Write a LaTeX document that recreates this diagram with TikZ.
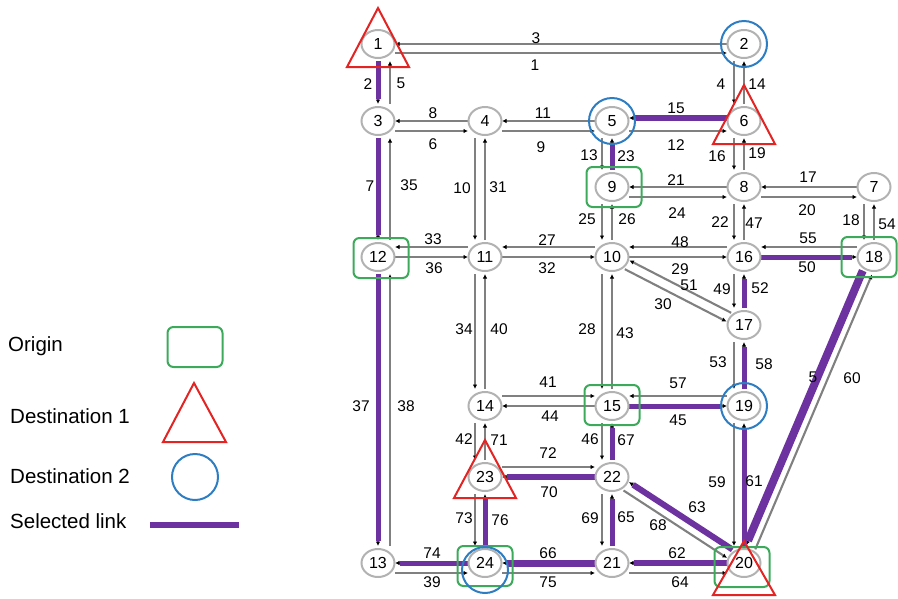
\documentclass[tikz,border=0pt]{standalone}
\usepackage{fontspec}
\setmainfont{Liberation Sans}
\usetikzlibrary{arrows.meta,shapes.geometric}
\definecolor{cgreen}{RGB}{60,170,90}
\definecolor{cred}{RGB}{228,35,35}
\definecolor{cblue}{RGB}{45,125,195}
\definecolor{cpurple}{RGB}{110,50,160}
\definecolor{linkgray}{RGB}{128,128,128}
\begin{document}
\begin{tikzpicture}[x=1pt,y=-1pt,
  lnk/.style={draw=linkgray, line width=2.1pt, shorten <=17pt, shorten >=17pt,
    -{Latex[length=4.5pt,width=4.5pt,color=black]}},
  sel/.style={draw=cpurple, shorten <=17pt, shorten >=22pt},
  nd/.style={ellipse, draw=gray!60, line width=2pt, fill=white, minimum width=33pt,
    minimum height=28pt, inner sep=0pt, font=\fontsize{16}{16}\selectfont},
  lbl/.style={inner sep=0pt, font=\fontsize{15.5}{15.5}\selectfont},
  leg/.style={inner sep=0pt, anchor=west, font=\fontsize{20.5}{20.5}\selectfont},
  orig/.style={draw=cgreen, line width=2pt, rounded corners=6pt},
  dest1/.style={draw=cred, line width=2pt},
  dest2/.style={draw=cblue, line width=2pt}]
\useasboundingbox (0,0) rectangle (898,598);
% node positions
\foreach \n/\x/\y in {1/378/44, 2/744/44, 3/378/121, 4/485/121, 5/612/121, 6/744/121,
  7/874/187, 8/744/187, 9/612/187, 10/612/257, 11/485/257, 12/378/257, 13/378/563,
  14/485/406, 15/612/406, 16/744/257, 17/744/325, 18/874/257, 19/744/406, 20/744/563,
  21/612/563, 22/612/477, 23/485/477, 24/485/563}
  \coordinate (n\n) at (\x,\y);
% gray links
\foreach \n/\a/\b/\sx/\sy in {1/1/2/0/9, 2/1/3/0/0, 3/2/1/0/0, 4/2/6/-10/0, 5/3/1/12/0,
  6/3/4/0/10, 7/3/12/0/0, 8/4/3/0/0, 9/4/5/0/10, 10/4/11/-10/0, 11/5/4/0/0, 12/5/6/0/10,
  13/5/9/-10/0, 14/6/2/0/0, 15/6/5/0/-3, 16/6/8/-10/0, 17/7/8/0/0, 18/7/18/-10/0,
  19/8/6/0/0, 20/8/7/0/10, 21/8/9/0/0, 22/8/16/-10/0, 23/9/5/0/0, 24/9/8/0/10,
  25/9/10/-10/0, 26/10/9/0/0, 27/10/11/0/-10, 28/10/15/-10/0, 29/10/16/0/0,
  30/10/17/-2.3/4.4, 31/11/4/0/0, 32/11/10/0/0, 33/11/12/0/-10, 34/11/14/-10/0,
  35/12/3/12/0, 36/12/11/0/0, 37/12/13/0/0, 38/13/12/12/0, 39/13/24/0/10, 40/14/11/0/0,
  41/14/15/0/-10, 42/14/23/-10/0, 43/15/10/0/0, 44/15/14/0/0, 45/15/19/0/0,
  46/15/22/-10/0, 47/16/8/0/0, 48/16/10/0/-10, 49/16/17/-10/0, 50/16/18/0/0,
  51/17/10/2.3/-4.4, 52/17/16/0/0, 53/17/19/-10/0, 54/18/7/0/0, 55/18/16/0/-10,
  56/18/20/-4.6/-2, 57/19/15/0/-10, 58/19/17/0/0, 59/19/20/-10/0, 60/20/18/4.6/2,
  61/20/19/0/0, 62/20/21/0/0, 63/20/22/2.7/-4.2, 64/21/20/0/10, 65/21/22/0/0,
  66/21/24/0/0, 67/22/15/0/0, 68/22/20/-2.7/4.2, 69/22/21/-10/0, 70/22/23/0/0,
  71/23/14/0/0, 72/23/22/0/-10, 73/23/24/-10/0, 74/24/13/0/0, 75/24/21/0/10, 76/24/23/0/0}
  \draw[lnk] ([shift={(\sx,\sy)}]n\a) -- ([shift={(\sx,\sy)}]n\b);
% selected links
\foreach \a/\b/\sx/\sy/\w in {1/3/0/0/5, 3/12/0/0/5, 12/13/0/0/5, 24/13/0/0/5,
  24/23/0/0/5, 21/24/0/0/7, 20/21/0/0/6, 20/22/2.7/-4.2/6, 21/22/0/0/5, 22/15/0/0/5,
  22/23/0/0/6, 15/19/0/0/5, 20/19/0/0/5, 18/20/-4.6/-2/8, 16/18/0/0/5, 17/16/0/0/5,
  19/17/0/0/5, 9/5/0/0/5, 6/5/0/-3/6.5}
  \draw[sel, line width=\w pt] ([shift={(\sx,\sy)}]n\a) -- ([shift={(\sx,\sy)}]n\b);
% node ellipses
\foreach \n in {1,...,24}
  \node[nd] (v\n) at (n\n) {\n};
% origin boxes
\foreach \n/\dx/\dy in {9/2/0, 12/3/1, 15/0/-1, 18/-5/0, 24/0/3, 20/-2/4}
  \draw[orig] ([shift={({\dx-27.5},{\dy-20})}]n\n) rectangle ([shift={({\dx+27.5},{\dy+20})}]n\n);
% destination 1 triangles
\foreach \n/\t/\bb in {1/-36/23, 6/-36/23, 23/-37/21, 20/-22/32}
  \draw[dest1] ([shift={(0,\t)}]n\n) -- ([shift={(31,\bb)}]n\n) -- ([shift={(-31,\bb)}]n\n) -- cycle;
% destination 2 circles
\foreach \n/\dy in {2/0, 5/0, 19/0, 24/7}
  \draw[dest2] ([shift={(0,\dy)}]n\n) circle[radius=23pt];
% link labels
\foreach \n/\x/\y/\t in {1/535/65/1, 2/368/84/2, 3/536/38/3, 4/721/84/4, 5/401/83/5,
  6/433/144/6, 7/370/186/7, 8/433/113/8, 9/541/147/9, 10/462/188/10, 11/543/113/11,
  12/676/145/12, 13/589/155/13, 14/757/84/14, 15/676/108/15, 16/717/156/16,
  17/808/177/17, 18/851/220/18, 19/757/153/19, 20/807/210/20, 21/676/180/21,
  22/720/222/22, 23/626/156/23, 24/677/213/24, 25/587/219/25, 26/627/219/26,
  27/547/240/27, 28/587/329/28, 29/680/269/29, 30/663/304/30, 31/498/187/31,
  32/547/268/32, 33/433/239/33, 34/464/329/34, 35/409/185/35, 36/434/268/36,
  37/361/406/37, 38/406/406/38, 39/432/582/39, 40/499/329/40, 41/548/382/41,
  42/464/439/42, 43/625/333/43, 44/550/416/44, 45/678/420/45, 46/590/439/46,
  47/754/223/47, 48/680/242/48, 49/722/289/49, 50/807/267/50, 51/689/285/51,
  52/760/288/52, 53/718/362/53, 54/887/224/54, 55/808/238/55, 56/813/377/5,
  57/678/383/57, 58/764/364/58, 59/717/482/59, 60/852/378/60, 61/754/481/61,
  62/677/553/62, 63/697/507/63, 64/680/582/64, 65/626/517/65, 66/548/553/66,
  67/626/440/67, 68/658/525/68, 69/590/518/69, 70/549/492/70, 71/499/440/71,
  72/548/453/72, 73/464/518/73, 74/432/553/74, 75/548/582/75, 76/500/520/76}
  \node[lbl] (l\n) at (\x,\y) {\t};
% legend
\node[leg] (lo) at (8,346) {Origin};
\node[leg] (ld1) at (10,416) {Destination 1};
\node[leg] (ld2) at (10,476) {Destination 2};
\node[leg] (ls) at (10,521) {Selected link};
\draw[orig] (167.5,327) rectangle (222.5,367);
\draw[dest1] (194,383) -- (226,442) -- (163,442) -- cycle;
\draw[dest2] (195,477) circle[radius=23pt];
\coordinate (sa) at (150,525);
\coordinate (sb) at (239,525);
\draw[draw=cpurple, line width=6pt] (sa) -- (sb);
\end{tikzpicture}
\end{document}
